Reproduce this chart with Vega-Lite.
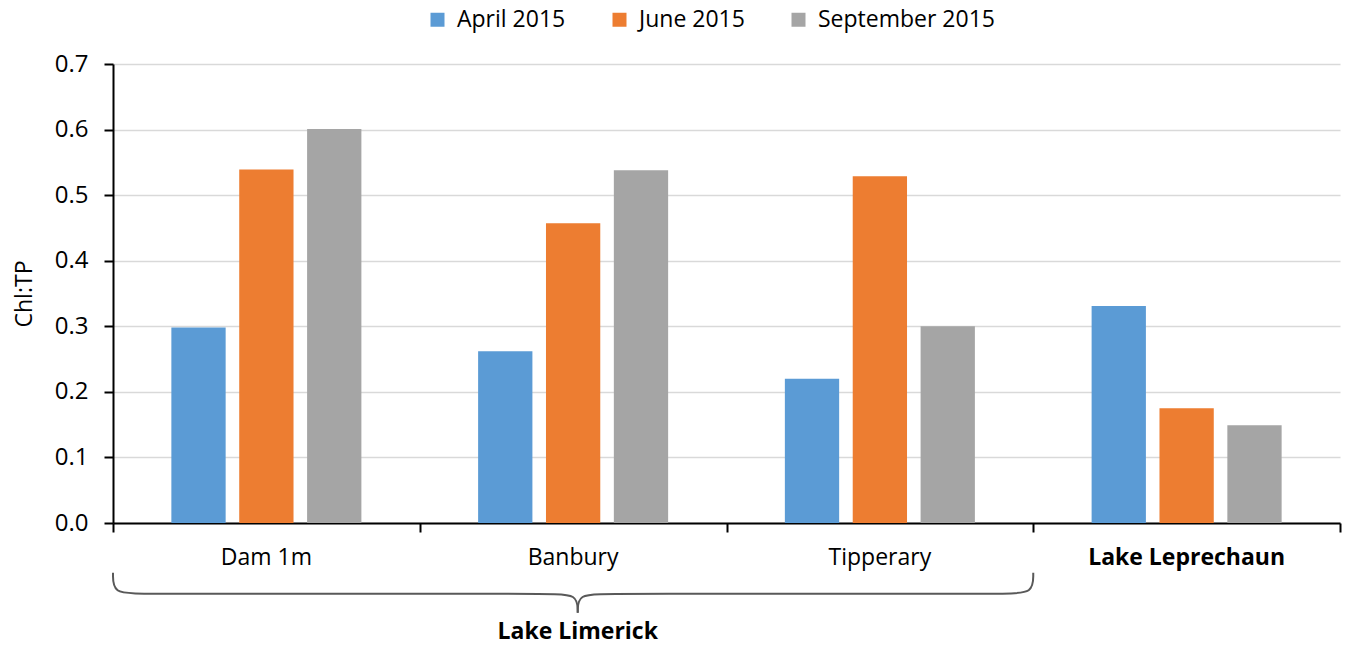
{
  "$schema": "https://vega.github.io/schema/vega-lite/v6.json",
  "autosize": "none",
  "width": 1227,
  "height": 459,
  "padding": {"left": 113, "top": 64, "right": 6, "bottom": 123},
  "config": {"view": {"stroke": null}, "font": "Open Sans"},
  "resolve": {"scale": {"x": "independent"}, "axis": {"x": "independent"}},
  "layer": [
    {
      "data": {"values": [
        {"site": "Dam 1m", "month": "April 2015", "ratio": 0.298},
        {"site": "Dam 1m", "month": "June 2015", "ratio": 0.539},
        {"site": "Dam 1m", "month": "September 2015", "ratio": 0.601},
        {"site": "Banbury", "month": "April 2015", "ratio": 0.262},
        {"site": "Banbury", "month": "June 2015", "ratio": 0.457},
        {"site": "Banbury", "month": "September 2015", "ratio": 0.538},
        {"site": "Tipperary", "month": "April 2015", "ratio": 0.220},
        {"site": "Tipperary", "month": "June 2015", "ratio": 0.529},
        {"site": "Tipperary", "month": "September 2015", "ratio": 0.300},
        {"site": "Lake Leprechaun", "month": "April 2015", "ratio": 0.331},
        {"site": "Lake Leprechaun", "month": "June 2015", "ratio": 0.175},
        {"site": "Lake Leprechaun", "month": "September 2015", "ratio": 0.149}
      ]},
      "mark": {"type": "bar", "clip": false},
      "encoding": {
        "x": {
          "field": "site", "type": "nominal",
          "sort": ["Dam 1m", "Banbury", "Tipperary", "Lake Leprechaun"],
          "scale": {"paddingInner": 0, "paddingOuter": 0},
          "axis": {
            "title": null, "orient": "bottom", "labelAngle": 0, "ticks": false,
            "domain": true, "domainColor": "#000000", "domainWidth": 2,
            "labelFont": "Open Sans", "labelFontSize": 23, "labelColor": "#000000",
            "labelPadding": 23, "labelLimit": 400,
            "labelFontWeight": {"condition": {"test": "datum.label == 'Lake Leprechaun'", "value": "bold"}, "value": "normal"}
          }
        },
        "xOffset": {
          "field": "month", "type": "nominal",
          "sort": ["April 2015", "June 2015", "September 2015"],
          "scale": {"paddingInner": 0.2, "paddingOuter": 0.86}
        },
        "y": {
          "field": "ratio", "type": "quantitative",
          "scale": {"domain": [0, 0.7], "nice": false, "zero": true},
          "axis": {
            "title": "Chl:TP", "values": [0, 0.1, 0.2, 0.3, 0.4, 0.5, 0.6, 0.7], "format": ".1f",
            "titleFont": "Open Sans", "titleFontSize": 23, "titleFontWeight": "normal", "titleColor": "#000000", "titlePadding": 18,
            "labelFont": "Open Sans", "labelFontSize": 24, "labelColor": "#000000", "labelPadding": 16,
            "domainColor": "#000000", "domainWidth": 2, "tickColor": "#000000", "tickWidth": 2, "tickSize": 9,
            "grid": true, "gridColor": "#D9D9D9", "gridWidth": 1.5
          }
        },
        "color": {
          "field": "month", "type": "nominal",
          "sort": ["April 2015", "June 2015", "September 2015"],
          "scale": {"domain": ["April 2015", "June 2015", "September 2015"], "range": ["#5B9BD5", "#ED7D31", "#A5A5A5"]},
          "legend": {
            "title": null, "orient": "none", "legendX": 313, "legendY": -56, "direction": "horizontal", "columns": 3,
            "symbolType": "square", "symbolSize": 196, "symbolStrokeWidth": 0, "symbolOpacity": 1,
            "labelFont": "Open Sans", "labelFontSize": 23, "labelColor": "#000000", "labelOffset": 8, "labelLimit": 400,
            "columnPadding": 42
          }
        }
      }
    },
    {
      "data": {"values": [
        {"part": "left", "i": 0, "bx": 0.0, "by": -0.076},
        {"part": "left", "i": 1, "bx": 0.0, "by": -0.108},
        {"part": "left", "i": 2, "bx": 0.09, "by": -0.108},
        {"part": "left", "i": 3, "bx": 1.42, "by": -0.108},
        {"part": "left", "i": 4, "bx": 1.515, "by": -0.108},
        {"part": "left", "i": 5, "bx": 1.515, "by": -0.137},
        {"part": "right", "i": 0, "bx": 1.515, "by": -0.137},
        {"part": "right", "i": 1, "bx": 1.515, "by": -0.108},
        {"part": "right", "i": 2, "bx": 1.61, "by": -0.108},
        {"part": "right", "i": 3, "bx": 2.91, "by": -0.108},
        {"part": "right", "i": 4, "bx": 3.0, "by": -0.108},
        {"part": "right", "i": 5, "bx": 3.0, "by": -0.076}
      ]},
      "mark": {"type": "line", "interpolate": "basis", "color": "#595959", "strokeWidth": 2, "clip": false},
      "encoding": {
        "x": {
          "field": "bx", "type": "quantitative",
          "scale": {"domain": [0, 4], "nice": false, "zero": false},
          "axis": {
            "title": null, "orient": "bottom", "values": [0, 1, 2, 3, 4], "labels": false, "domain": false, "grid": false,
            "ticks": true, "tickColor": "#000000", "tickWidth": 2, "tickSize": 9
          }
        },
        "y": {
          "field": "by", "type": "quantitative",
          "scale": {"domain": [0, 0.7], "nice": false, "zero": true},
          "axis": {
            "title": "Chl:TP", "values": [0, 0.1, 0.2, 0.3, 0.4, 0.5, 0.6, 0.7], "format": ".1f",
            "titleFont": "Open Sans", "titleFontSize": 23, "titleFontWeight": "normal", "titleColor": "#000000", "titlePadding": 18,
            "labelFont": "Open Sans", "labelFontSize": 24, "labelColor": "#000000", "labelPadding": 16,
            "domainColor": "#000000", "domainWidth": 2, "tickColor": "#000000", "tickWidth": 2, "tickSize": 9,
            "grid": true, "gridColor": "#D9D9D9", "gridWidth": 1.5
          }
        },
        "detail": {"field": "part", "type": "nominal"},
        "order": {"field": "i", "type": "quantitative"}
      }
    },
    {
      "data": {"values": [{"group": "Lake Limerick", "bx": 1.515, "by": -0.166}]},
      "mark": {"type": "text", "font": "Open Sans", "fontSize": 23, "fontWeight": "bold", "color": "#000000", "baseline": "middle", "align": "center", "clip": false},
      "encoding": {
        "x": {"field": "bx", "type": "quantitative", "scale": {"domain": [0, 4], "nice": false, "zero": false}, "axis": null},
        "y": {"field": "by", "type": "quantitative", "scale": {"domain": [0, 0.7], "nice": false, "zero": true}},
        "text": {"field": "group"}
      }
    }
  ]
}
